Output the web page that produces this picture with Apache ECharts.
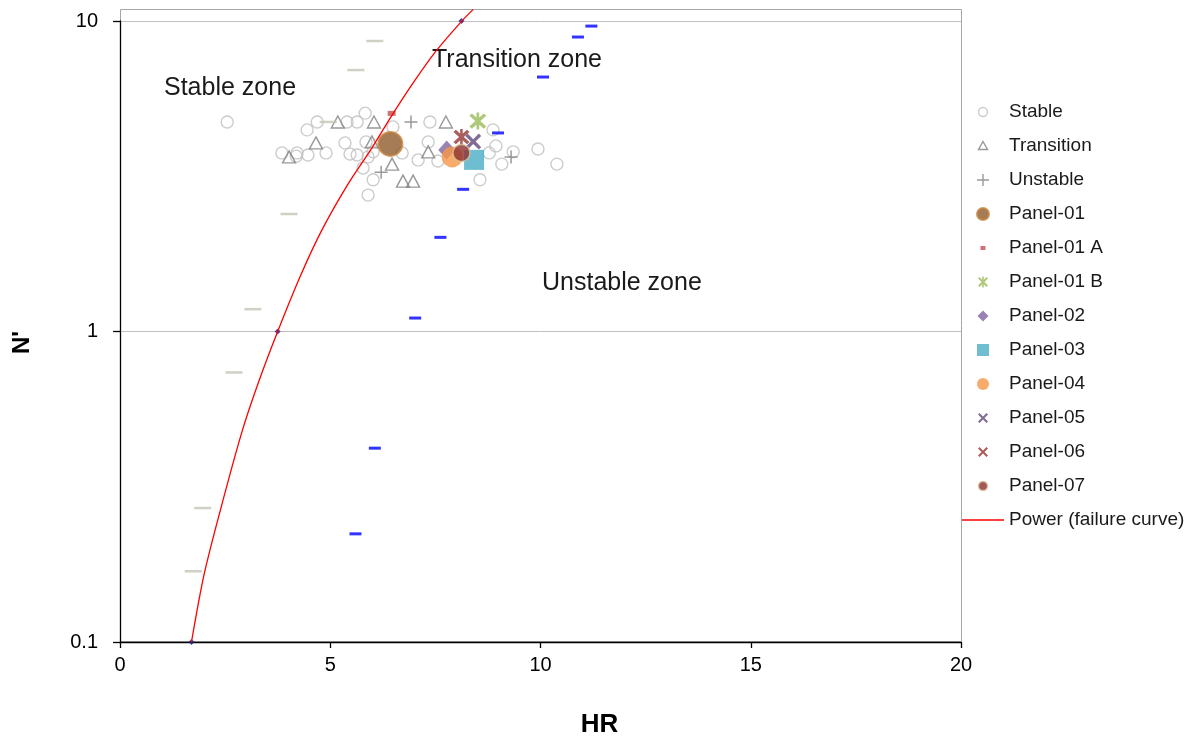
<!DOCTYPE html>
<html><head><meta charset="utf-8">
<script src="https://cdn.jsdelivr.net/npm/echarts@6/dist/echarts.min.js"></script>
<style>html,body{margin:0;padding:0;background:#fff}#c{width:1194px;height:738px}</style>
</head><body><div id="c"></div>
<script>
// ---- data (HR, N') ----
const stable = [[2.55,4.73],[4.69,4.73],[4.45,4.46],[3.85,3.76],[4.21,3.76],[4.19,3.67],[4.47,3.70],[4.90,3.76],
  [5.40,4.73],[5.64,4.73],[5.83,5.05],[6.49,4.56],[5.35,4.05],[5.85,4.08],[5.47,3.73],[5.64,3.70],[5.90,3.65],
  [6.02,3.79],[6.71,3.76],[7.09,3.57],[5.78,3.36],[6.02,3.08],[5.90,2.75],[7.37,4.73],[7.33,4.08],[7.56,3.54],
  [8.87,4.46],[8.94,3.96],[8.78,3.76],[9.35,3.79],[9.08,3.46],[9.94,3.87],[10.39,3.46],[8.56,3.08]];
const transition = [[5.18,4.73],[4.66,4.05],[4.02,3.65],[6.04,4.73],[5.99,4.08],[6.47,3.46],[6.73,3.05],[6.97,3.05],[7.75,4.73],[7.33,3.79]];
const unstable = [[6.92,4.73],[6.21,3.26],[9.30,3.65]];
const panel01 = [[6.43,4.02]];
const panel01A = [[6.46,5.04]];
const panel01B = [[8.51,4.76]];
const panel02 = [[7.77,3.84]];
const panel03 = [[8.42,3.57]];
const panel04 = [[7.90,3.65]];
const panel05 = [[8.40,4.09]];
const panel06 = [[8.12,4.23]];
const panel07 = [[8.12,3.76]];
const stableLimit = [[6.06,8.62],[5.61,6.95],[4.95,4.73],[4.02,2.39],[3.16,1.18],[2.71,0.738],[1.97,0.270],[1.74,0.169]];
const unstableLimit = [[11.21,9.63],[10.89,8.88],[10.06,6.60],[8.99,4.36],[8.16,2.87],[7.62,2.01],[7.02,1.105],[6.06,0.421],[5.60,0.223]];
const curvePoints = [[1.70,0.1],[3.75,1.0],[8.12,10]];
const failureCurve = [[1.70,0.100],[2.00,0.165],[2.40,0.270],[2.90,0.475],[3.30,0.690],[3.75,1.00],[4.30,1.52],[4.80,2.12],
  [5.40,2.95],[6.00,3.92],[6.50,5.05],[7.00,6.40],[7.50,7.95],[8.10,9.90],[8.40,10.9]];
const xTicks = {min:0, max:20, interval:5};
const yTicks = {min:0.1, max:10};
const zoneLabels = ['Stable zone','Transition zone','Unstable zone'];

// ---- symbols ----
const FONT = "'Liberation Sans', Arial, sans-serif";
const PLUS = 'path://M0,5.75h13v1.5h-13z M5.75,0h1.5v13h-1.5z';
const XMARK = 'path://M0,1.5L1.5,0L5,3.5L8.5,0L10,1.5L6.5,5L10,8.5L8.5,10L5,6.5L1.5,10L0,8.5L3.5,5Z';
const ASTER = 'path://M0,1.5L1.5,0L5,3.5L8.5,0L10,1.5L6.5,5L10,8.5L8.5,10L5,6.5L1.5,10L0,8.5L3.5,5Z M4.2,-0.5h1.6v11h-1.6z';
const DASH = 'path://M0,0h10v2h-10z';
const PAD = 'path://M0,0M14,14';
const L = {
  'Stable': PAD+'M11.5,7A4.5,4.5,0,1,1,2.5,7A4.5,4.5,0,1,1,11.5,7Z',
  'Transition': PAD+'M7,2.5L11.5,10.5L2.5,10.5Z',
  'Unstable': PAD+'M1,6.3h12v1.4h-12z M6.3,1h1.4v12h-1.4z',
  'Panel-01': PAD+'M13,7A6,6,0,1,1,1,7A6,6,0,1,1,13,7Z',
  'Panel-01 A': PAD+'M4.5,5h5v4h-5z',
  'Panel-01 B': PAD+'M2,3.5L3.5,2L7,5.5L10.5,2L12,3.5L8.5,7L12,10.5L10.5,12L7,8.5L3.5,12L2,10.5L5.5,7Z M6.2,1.5h1.6v11h-1.6z',
  'Panel-02': PAD+'M7,1.5L12.5,7L7,12.5L1.5,7Z',
  'Panel-03': PAD+'M1,1h12v12h-12z',
  'Panel-04': PAD+'M13,7A6,6,0,1,1,1,7A6,6,0,1,1,13,7Z',
  'Panel-05': PAD+'M2,3.5L3.5,2L7,5.5L10.5,2L12,3.5L8.5,7L12,10.5L10.5,12L7,8.5L3.5,12L2,10.5L5.5,7Z',
  'Panel-06': PAD+'M2,3.5L3.5,2L7,5.5L10.5,2L12,3.5L8.5,7L12,10.5L10.5,12L7,8.5L3.5,12L2,10.5L5.5,7Z',
  'Panel-07': PAD+'M11.5,7A4.5,4.5,0,1,1,2.5,7A4.5,4.5,0,1,1,11.5,7Z',
  'Power (failure curve)': 'path://M0,0M42,14M0,6.3h42v1.4h-42z'
};
const legendNames = ['Stable','Transition','Unstable','Panel-01','Panel-01 A','Panel-01 B','Panel-02','Panel-03','Panel-04','Panel-05','Panel-06','Panel-07','Power (failure curve)'];

function sc(name, data, symbol, size, itemStyle, z) {
  return {type:'scatter', name, data, symbol, symbolSize:size, itemStyle, z: z||2, emphasis:{disabled:true}};
}

const chart = echarts.init(document.getElementById('c'), null, {renderer:'canvas'});
chart.setOption({
  animation:false,
  backgroundColor:'#fff',
  grid:{left:120, right:233, top:21, bottom:96, containLabel:false, outerBoundsMode:'none'},
  xAxis:{type:'value', min:xTicks.min, max:xTicks.max, interval:xTicks.interval,
    name:'HR', nameLocation:'middle', nameGap:70,
    nameTextStyle:{fontFamily:FONT, fontSize:26, fontWeight:'bold', color:'#000', padding:[0,0,0,118]},
    axisLine:{lineStyle:{color:'#000', width:1.3}},
    axisTick:{show:true, inside:false, length:6, lineStyle:{color:'#000', width:1.3}},
    axisLabel:{fontFamily:FONT, fontSize:20, color:'#000', margin:13},
    splitLine:{show:false}},
  yAxis:{type:'log', logBase:10, min:yTicks.min, max:yTicks.max,
    name:"N'", nameLocation:'middle', nameGap:86, nameRotate:90,
    nameTextStyle:{fontFamily:FONT, fontSize:24, fontWeight:'bold', color:'#000', padding:[0,22,0,0]},
    axisLine:{show:true, lineStyle:{color:'#000', width:1.3}},
    axisTick:{show:true, inside:false, length:7, lineStyle:{color:'#000', width:1.3}},
    axisLabel:{fontFamily:FONT, fontSize:20, color:'#000', margin:22},
    splitLine:{show:true, lineStyle:{color:'#c0c0c0', width:1}}},
  legend:{show:true, orient:'vertical', left:957, top:97, itemWidth:42, itemHeight:14, itemGap:14,
    selectedMode:false,
    textStyle:{fontFamily:FONT, fontSize:19, color:'#1a1a1a', lineHeight:20},
    itemStyle:{borderWidth:'inherit'},
    data: legendNames.map(n => ({name:n, icon:L[n]}))},
  graphic:[
    {type:'rect', silent:true, z:-5, shape:{x:120.5, y:9.5, width:841, height:632}, style:{fill:'none', stroke:'#a6a6a6', lineWidth:1}},
    {type:'text', left:164, top:76, style:{text:zoneLabels[0], fontFamily:FONT, fontSize:25, fill:'#1a1a1a'}},
    {type:'text', left:432, top:48, style:{text:zoneLabels[1], fontFamily:FONT, fontSize:25, fill:'#1a1a1a'}},
    {type:'text', left:542, top:271, style:{text:zoneLabels[2], fontFamily:FONT, fontSize:25, fill:'#1a1a1a'}}
  ],
  series:[
    sc('Stable', stable, 'circle', 12, {color:'rgba(255,255,255,0)', borderColor:'#bfbfbf', borderWidth:1.4}),
    sc('Transition', transition, 'triangle', [13,12], {color:'rgba(255,255,255,0)', borderColor:'#7f7f7f', borderWidth:1.4}),
    sc('Unstable', unstable, PLUS, 13, {color:'#7f7f7f', borderWidth:0}),
    sc('Stable limit', stableLimit, DASH, [17,2.5], {color:'#c4c4b6', borderWidth:0}),
    sc('Unstable limit', unstableLimit, DASH, [12,3], {color:'#0000ff', borderWidth:0}),
    sc('Curve points', curvePoints, 'diamond', 6, {color:'#1f1f80', borderWidth:0}),
    sc('Panel-01', panel01, 'circle', 24, {color:'#8f5b2a', borderColor:'#c8863e', borderWidth:2}),
    sc('Panel-01 A', panel01A, 'rect', [8,5], {color:'#c0504d', borderWidth:0}),
    sc('Panel-01 B', panel01B, ASTER, 17, {color:'#9bbb59', borderWidth:0}),
    sc('Panel-02', panel02, 'diamond', [17,19], {color:'#8064a2', borderWidth:0}),
    sc('Panel-03', panel03, 'rect', 20, {color:'#4bacc6', borderWidth:0}),
    sc('Panel-04', panel04, 'circle', 21, {color:'#f79646', borderWidth:0}),
    sc('Panel-05', panel05, XMARK, 16, {color:'#604a7b', borderWidth:0}),
    sc('Panel-06', panel06, ASTER, 16, {color:'#953735', borderWidth:0}),
    sc('Panel-07', panel07, 'circle', 17, {color:'#8f302d', borderColor:'#d9c39a', borderWidth:1.5}),
    {type:'line', name:'Power (failure curve)', data:failureCurve, smooth:0.3, showSymbol:false, symbol:'none',
      clip:false, z:6, itemStyle:{color:'#ff0000'}, lineStyle:{color:'#ff0000', width:1.3}, emphasis:{disabled:true}}
  ]
});
</script></body></html>
